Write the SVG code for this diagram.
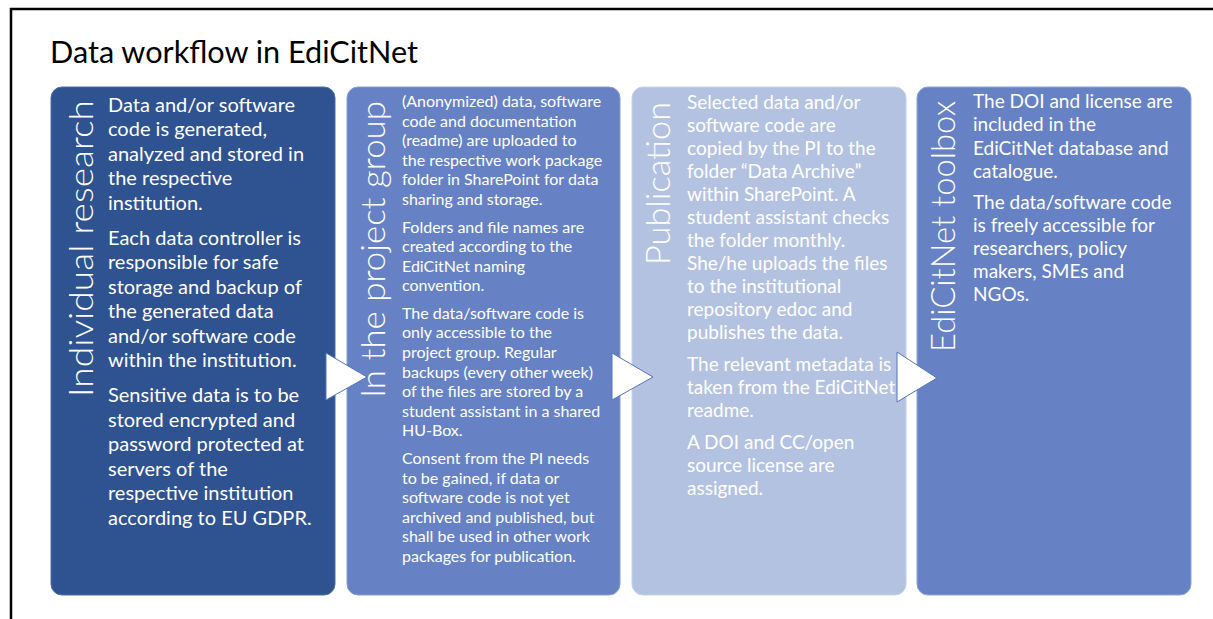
<svg xmlns="http://www.w3.org/2000/svg" width="1213" height="619" viewBox="0 0 1213 619">
<style>
.frame{fill:none;stroke:#000;stroke-width:2.5}
.title{font-family:Lato,"Liberation Sans",sans-serif;font-size:31px;fill:#000}
.vt{font-family:Lato,"Liberation Sans",sans-serif;font-size:34px;font-weight:300;fill:#fff}
.b1{font-family:Lato,"Liberation Sans",sans-serif;font-size:20px;fill:#fff}
.b2{font-family:Lato,"Liberation Sans",sans-serif;font-size:16px;fill:#fff}
.b3{font-family:Lato,"Liberation Sans",sans-serif;font-size:19px;fill:#fff}
.arrow{fill:#fff;stroke:#5575BA;stroke-width:1}
</style>
<rect width="1213" height="619" fill="#fff"/>
<path class="frame" d="M11 619 V9 H1213"/>
<text class="title" x="50" y="63" textLength="368" lengthAdjust="spacingAndGlyphs">Data workflow in EdiCitNet</text>

<g id="individual-research">
<rect x="51" y="87" width="284" height="508" rx="11" fill="#2F5291" stroke="#4C6CAD" stroke-width="1"/>
<text class="vt" transform="translate(93,397) rotate(-90)" textLength="297" lengthAdjust="spacingAndGlyphs">Individual research</text>
<text class="b1">
<tspan x="108" y="111.5">Data and/or software</tspan>
<tspan x="108" y="136">code is generated,</tspan>
<tspan x="108" y="160.5">analyzed and stored in</tspan>
<tspan x="108" y="185">the respective</tspan>
<tspan x="108" y="209.5">institution.</tspan>
<tspan x="108" y="244.5">Each data controller is</tspan>
<tspan x="108" y="269">responsible for safe</tspan>
<tspan x="108" y="293.5">storage and backup of</tspan>
<tspan x="108" y="318">the generated data</tspan>
<tspan x="108" y="342.5">and/or software code</tspan>
<tspan x="108" y="367">within the institution.</tspan>
<tspan x="108" y="402">Sensitive data is to be</tspan>
<tspan x="108" y="426.5">stored encrypted and</tspan>
<tspan x="108" y="451">password protected at</tspan>
<tspan x="108" y="475.5">servers of the</tspan>
<tspan x="108" y="500">respective institution</tspan>
<tspan x="108" y="524.5">according to EU GDPR.</tspan>
</text>
</g>

<g id="project-group">
<rect x="347" y="87" width="273" height="508" rx="11" fill="#6682C4" stroke="#849DD2" stroke-width="1"/>
<text class="vt" transform="translate(385,398) rotate(-90)" textLength="297" lengthAdjust="spacingAndGlyphs">In the project group</text>
<text class="b2">
<tspan x="402" y="107">(Anonymized) data, software</tspan>
<tspan x="402" y="126.6">code and documentation</tspan>
<tspan x="402" y="146.2">(readme) are uploaded to</tspan>
<tspan x="402" y="165.8">the respective work package</tspan>
<tspan x="402" y="185.4">folder in SharePoint for data</tspan>
<tspan x="402" y="205">sharing and storage.</tspan>
<tspan x="402" y="232.5">Folders and file names are</tspan>
<tspan x="402" y="252.1">created according to the</tspan>
<tspan x="402" y="271.7">EdiCitNet naming</tspan>
<tspan x="402" y="291.3">convention.</tspan>
<tspan x="402" y="318.8">The data/software code is</tspan>
<tspan x="402" y="338.4">only accessible to the</tspan>
<tspan x="402" y="358">project group. Regular</tspan>
<tspan x="402" y="377.6">backups (every other week)</tspan>
<tspan x="402" y="397.2">of the files are stored by a</tspan>
<tspan x="402" y="416.8">student assistant in a shared</tspan>
<tspan x="402" y="436.4">HU-Box.</tspan>
<tspan x="402" y="463.9">Consent from the PI needs</tspan>
<tspan x="402" y="483.5">to be gained, if data or</tspan>
<tspan x="402" y="503.1">software code is not yet</tspan>
<tspan x="402" y="522.7">archived and published, but</tspan>
<tspan x="402" y="542.3">shall be used in other work</tspan>
<tspan x="402" y="561.9">packages for publication.</tspan>
</text>
</g>

<g id="publication">
<rect x="632" y="87" width="274" height="508" rx="11" fill="#B4C2E1" stroke="#C7D2EA" stroke-width="1"/>
<text class="vt" transform="translate(670,265) rotate(-90)" textLength="163" lengthAdjust="spacingAndGlyphs">Publication</text>
<text class="b3">
<tspan x="687" y="109">Selected data and/or</tspan>
<tspan x="687" y="132">software code are</tspan>
<tspan x="687" y="155">copied by the PI to the</tspan>
<tspan x="687" y="178">folder “Data Archive”</tspan>
<tspan x="687" y="201">within SharePoint. A</tspan>
<tspan x="687" y="224">student assistant checks</tspan>
<tspan x="687" y="247">the folder monthly.</tspan>
<tspan x="687" y="270">She/he uploads the files</tspan>
<tspan x="687" y="293">to the institutional</tspan>
<tspan x="687" y="316">repository edoc and</tspan>
<tspan x="687" y="339">publishes the data.</tspan>
<tspan x="687" y="371">The relevant metadata is</tspan>
<tspan x="687" y="394">taken from the EdiCitNet</tspan>
<tspan x="687" y="417">readme.</tspan>
<tspan x="687" y="449">A DOI and CC/open</tspan>
<tspan x="687" y="472">source license are</tspan>
<tspan x="687" y="495">assigned.</tspan>
</text>
</g>

<g id="edicitnet-toolbox">
<rect x="917" y="87" width="274" height="508" rx="11" fill="#6682C4" stroke="#8CA3D6" stroke-width="1"/>
<text class="vt" transform="translate(955,352) rotate(-90)" textLength="251" lengthAdjust="spacingAndGlyphs">EdiCitNet toolbox</text>
<text class="b3">
<tspan x="973" y="108">The DOI and license are</tspan>
<tspan x="973" y="131">included in the</tspan>
<tspan x="973" y="154.5">EdiCitNet database and</tspan>
<tspan x="973" y="177.5">catalogue.</tspan>
<tspan x="973" y="209">The data/software code</tspan>
<tspan x="973" y="232">is freely accessible for</tspan>
<tspan x="973" y="255">researchers, policy</tspan>
<tspan x="973" y="278">makers, SMEs and</tspan>
<tspan x="973" y="301">NGOs.</tspan>
</text>
</g>

<g id="connectors">
<polygon class="arrow" points="326,353 326,400 367,377"/>
<polygon class="arrow" points="612,353 612,400 653,377"/>
<polygon class="arrow" points="897,352 897,402 937,378"/>
</g>
</svg>
